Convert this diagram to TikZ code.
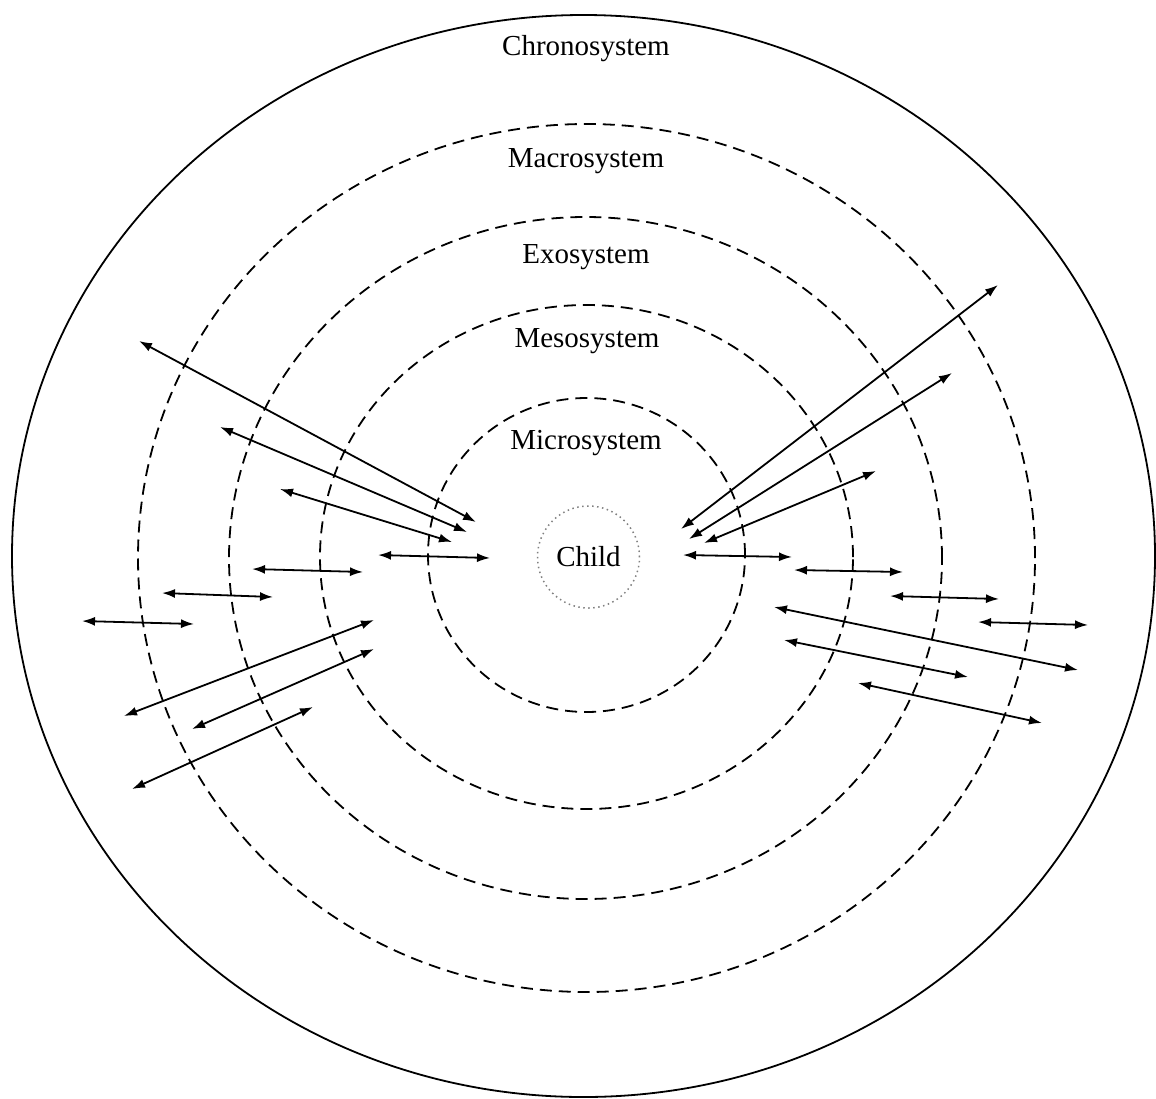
\documentclass[tikz,border=0pt]{standalone}
\usepackage{fontspec}
\setmainfont{Liberation Serif}
\usepackage{tikz}
\usetikzlibrary{arrows.meta,shapes.geometric}

\begin{document}
\begin{tikzpicture}[
x=1pt,y=-1pt,
ring/.style={draw,ellipse,inner sep=0pt,line width=1.8pt,dash pattern=on 12pt off 7pt},
outer/.style={draw,ellipse,inner sep=0pt,line width=1.8pt},
core/.style={draw,circle,inner sep=0pt,minimum size=102pt,line width=1.5pt,gray,dash pattern=on 1.5pt off 3.5pt,text=black},
lbl/.style={font=\fontsize{29}{34}\selectfont},
link/.style={{Latex[length=13pt,width=9pt]}-{Latex[length=13pt,width=9pt]},line width=1.8pt}]
\useasboundingbox (0,0) rectangle (1156,1098);
% system rings
\node[outer,minimum width=1143pt,minimum height=1082pt] (chrono) at (583.5,556) {};
\node[ring,minimum width=897pt,minimum height=868pt] (macro) at (586.5,558) {};
\node[ring,minimum width=713pt,minimum height=682pt] (exo) at (585.5,558) {};
\node[ring,minimum width=533pt,minimum height=504pt] (meso) at (586.5,557) {};
\node[ring,minimum width=317pt,minimum height=314pt] (micro) at (586.5,555) {};
\node[core,lbl] (child) at (588.5,557) {Child};
\node[lbl] (chronolbl) at (586,49) {Chronosystem};
\node[lbl] (macrolbl) at (586,161) {Macrosystem};
\node[lbl] (exolbl) at (586,257) {Exosystem};
\node[lbl] (mesolbl) at (587,341) {Mesosystem};
\node[lbl] (microlbl) at (586,443) {Microsystem};
% left arrows
\draw[link] (139,341) -- (476,522);
\draw[link] (220,427) -- (467,532);
\draw[link] (280,489) -- (452,542);
\draw[link] (378,555) -- (490,558);
\draw[link] (252,569) -- (363,572);
\draw[link] (162,593) -- (273,597);
\draw[link] (82,621) -- (194,624);
\draw[link] (124,716) -- (374,620);
\draw[link] (192,729) -- (374,649);
\draw[link] (132,789) -- (313,707);
% right arrows
\draw[link] (681,529) -- (998,285);
\draw[link] (689,539) -- (952,373);
\draw[link] (704,543) -- (876,471);
\draw[link] (683,555) -- (792,557);
\draw[link] (794,570) -- (903,572);
\draw[link] (890,596) -- (999,599);
\draw[link] (978,622) -- (1088,625);
\draw[link] (774,607) -- (1078,670);
\draw[link] (784,640) -- (968,677);
\draw[link] (858,683) -- (1042,723);
\end{tikzpicture}
\end{document}
